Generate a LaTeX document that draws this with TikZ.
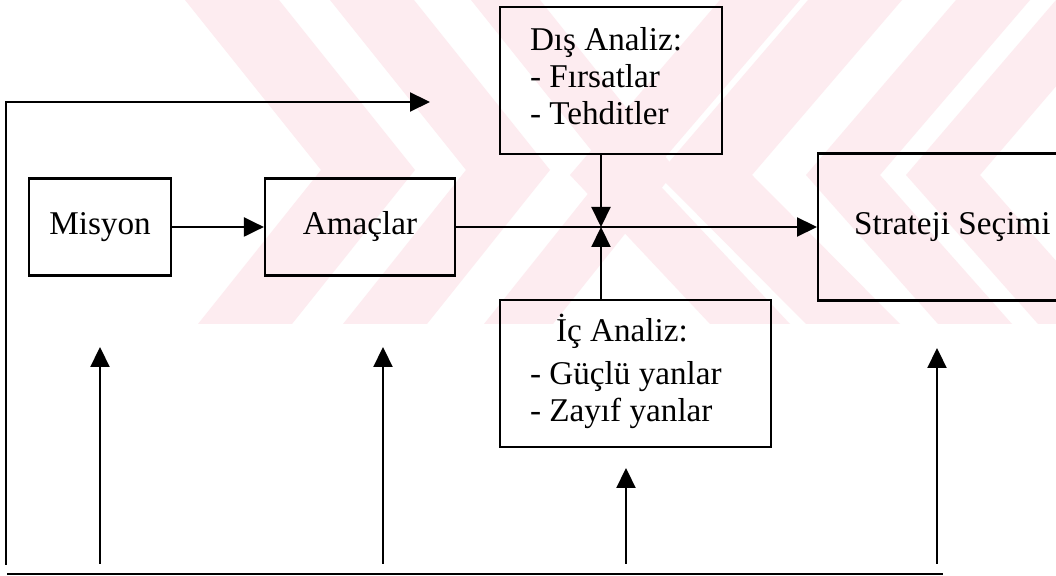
\documentclass[tikz,border=0pt]{standalone}
\usepackage{fontspec}
\setmainfont{Liberation Serif}
\usetikzlibrary{arrows.meta}
\definecolor{wmpink}{RGB}{253,236,240}
\newcommand{\leftlines}[2]{\makebox[#1][l]{\begin{tabular}{@{}l@{}}#2\end{tabular}}}
\tikzset{
  box/.style={draw, line width=1.1pt, inner sep=0pt, minimum height=73.5pt,
    font=\fontsize{16.6}{18.5}\selectfont},
  arr/.style={line width=1.1pt, -{Triangle[length=10pt,width=9.5pt]}},
  wire/.style={line width=1.1pt},
  band/.style={fill=wmpink, draw=none}
}
\begin{document}
\begin{tikzpicture}[x=0.5pt,y=-0.5pt]
\clip (0,0) rectangle (1056,576);
\fill[white] (0,0) rectangle (1056,576);

% pale background emblem: chevron bands in the upper half
\begin{scope}
  \clip (0,0) rectangle (1056,324);
  % left chevrons
  \fill[band] (185,0) -- (279,0) -- (415,170) -- (292,324) -- (198,324) -- (321,170) -- cycle;
  \fill[band] (330,0) -- (414,0) -- (550,170) -- (427,324) -- (343,324) -- (466,170) -- cycle;
  \fill[band] (471,0) -- (540,0) -- (676,170) -- (553,324) -- (484,324) -- (607,170) -- cycle;
  % right chevrons
  \fill[band] (720,0) -- (800,0) -- (650,175) -- (790,324) -- (710,324) -- (570,175) -- cycle;
  \fill[band] (808,0) -- (902,0) -- (752,175) -- (900,324) -- (806,324) -- (658,175) -- cycle;
  \fill[band] (956,0) -- (1030,0) -- (880,175) -- (1012,324) -- (938,324) -- (806,175) -- cycle;
  \fill[band] (1056,0) -- (1130,0) -- (980,175) -- (1112,324) -- (1038,324) -- (906,175) -- cycle;
\end{scope}

% blocks
\node[box, minimum width=71pt, minimum height=48.5pt] (mis) at (100,227) {Misyon};
\node[box, minimum width=95pt, minimum height=48.5pt] (ama) at (360,227) {Amaçlar};
\node[box, minimum width=111pt, inner xsep=15pt]
  (dis) at (611,80.5) {\leftlines{81pt}{Dış Analiz:\\- Fırsatlar\\- Tehditler}};
\node[box, minimum width=135.5pt, inner xsep=15pt]
  (ic) at (635.5,373.5) {\leftlines{105.5pt}{\hspace*{13pt}İç Analiz:\\[3pt]- Güçlü yanlar\\- Zayıf yanlar}};
\node[box, anchor=west, inner xsep=18pt]
  (strat) at (817,227) {\makebox[200pt][l]{Strateji Seçimi}};

% main flow
\coordinate (j) at (601,227);
\draw[arr] (mis) -- (ama);
\draw[arr] (ama.east) -- (strat.west);
\draw[arr] (dis.south -| j) -- (j);
\draw[arr] (ic.north -| j) -- (j);

% feedback loop
\coordinate (fbS) at (6,565);
\coordinate (fbE) at (430,102);
\draw[arr] (fbS) |- (fbE);
\coordinate (bl) at (7,574);
\coordinate (br) at (943,574);
\draw[wire] (bl) -- (br);

\coordinate (u1a) at (100,564); \coordinate (u1b) at (100,347);
\coordinate (u2a) at (383,564); \coordinate (u2b) at (383,347);
\coordinate (u3a) at (626,564); \coordinate (u3b) at (626,468);
\coordinate (u4a) at (937,564); \coordinate (u4b) at (937,348);
\draw[arr] (u1a) -- (u1b);
\draw[arr] (u2a) -- (u2b);
\draw[arr] (u3a) -- (u3b);
\draw[arr] (u4a) -- (u4b);
\end{tikzpicture}
\end{document}
